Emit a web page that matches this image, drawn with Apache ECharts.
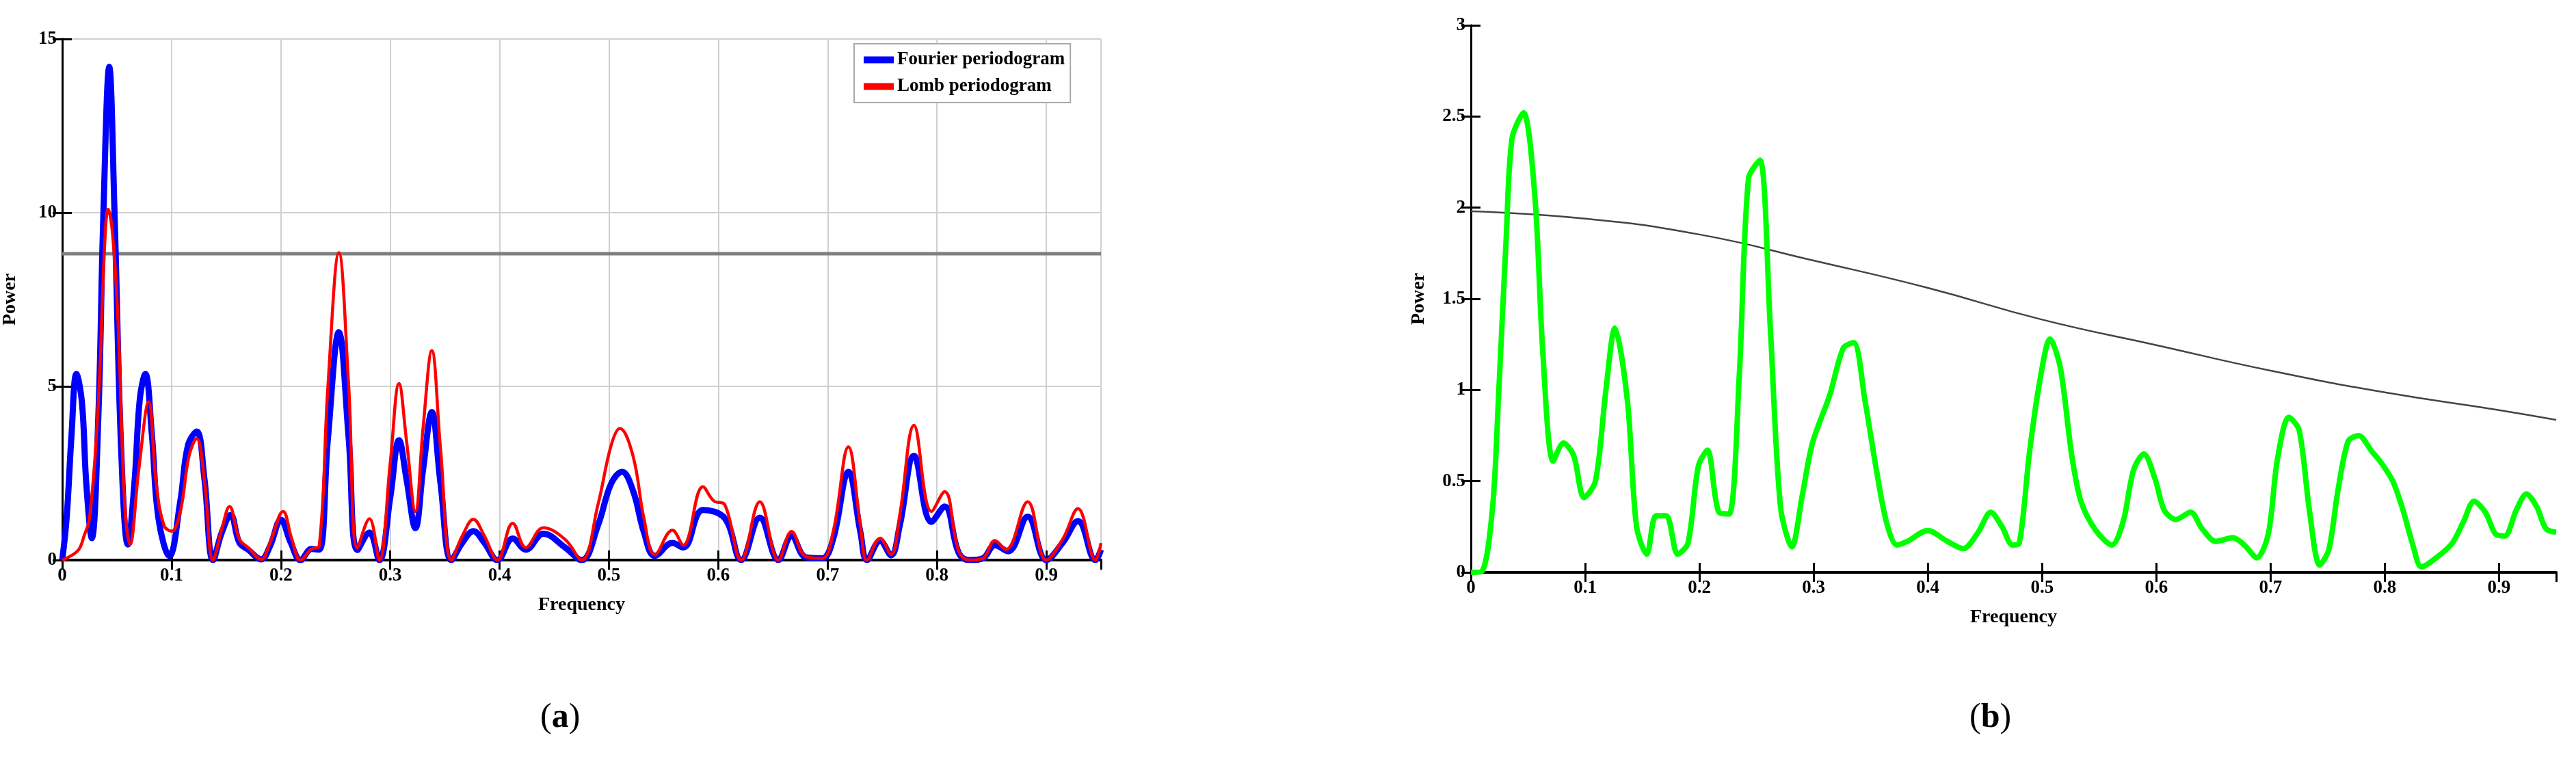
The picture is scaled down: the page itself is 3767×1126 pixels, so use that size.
<!DOCTYPE html>
<html>
<head>
<meta charset="utf-8">
<script src="https://cdn.jsdelivr.net/npm/echarts@6/dist/echarts.min.js"></script>
<style>
html, body { margin: 0; padding: 0; background: #fff; }
#chart { width: 3767px; height: 1126px; }
</style>
</head>
<body>
<div id="chart"></div>
<script>
// panel (a): Fourier periodogram [freq, power]
const fourier = [
  [0, 0], [0.004, 1.2], [0.0085, 3.6], [0.013, 5.36], [0.018, 4.55], [0.022, 2.2], [0.027, 0.63],
  [0.033, 4.1], [0.0375, 9.8], [0.043, 14.2], [0.048, 9.8], [0.054, 3.1], [0.06, 0.45],
  [0.066, 2.2], [0.071, 4.65], [0.076, 5.36], [0.082, 3.6], [0.088, 1.2], [0.098, 0.12],
  [0.108, 1.7], [0.115, 3.3], [0.123, 3.7], [0.13, 2.35], [0.138, 0], [0.146, 0.8], [0.154, 1.3],
  [0.162, 0.5], [0.17, 0.3], [0.182, 0.02], [0.19, 0.4], [0.2, 1.16], [0.209, 0.5], [0.218, 0],
  [0.228, 0.32], [0.235, 0.3], [0.243, 3.5], [0.253, 6.56], [0.262, 3.5], [0.27, 0.29],
  [0.281, 0.79], [0.29, 0], [0.3, 1.8], [0.308, 3.45], [0.315, 2.3], [0.323, 0.92], [0.33, 2.6],
  [0.338, 4.26], [0.346, 2.2], [0.356, 0], [0.366, 0.5], [0.376, 0.83], [0.386, 0.5], [0.398, 0],
  [0.412, 0.62], [0.424, 0.3], [0.44, 0.76], [0.46, 0.36], [0.475, 0], [0.49, 1.0], [0.502, 2.2],
  [0.512, 2.54], [0.522, 2.0], [0.532, 0.8], [0.542, 0.12], [0.558, 0.49], [0.568, 0.36],
  [0.586, 1.44], [0.606, 1.2], [0.621, 0], [0.638, 1.22], [0.655, 0], [0.667, 0.69], [0.68, 0.08],
  [0.695, 0.05], [0.705, 0.6], [0.719, 2.54], [0.73, 0.8], [0.736, 0], [0.748, 0.55], [0.758, 0.14],
  [0.766, 1.0], [0.779, 3.0], [0.795, 1.1], [0.807, 1.54], [0.82, 0.2], [0.83, 0], [0.842, 0.05],
  [0.853, 0.43], [0.865, 0.25], [0.883, 1.25], [0.9, 0], [0.915, 0.5], [0.929, 1.12], [0.945, 0],
  [0.95, 0.3]
];
// panel (a): Lomb periodogram
const lomb = [
  [0, 0], [0.004, 0.05], [0.015, 0.3], [0.02, 0.7], [0.025, 1.2], [0.033, 4.55], [0.039, 9.2],
  [0.042, 10.1], [0.046, 9.4], [0.051, 6.9], [0.057, 1.7], [0.062, 0.45], [0.07, 2.6],
  [0.079, 4.55], [0.086, 2.2], [0.093, 1.0], [0.1, 0.83], [0.108, 1.4], [0.116, 3.0], [0.123, 3.5],
  [0.13, 2.3], [0.138, 0], [0.146, 0.9], [0.153, 1.54], [0.162, 0.6], [0.17, 0.36], [0.182, 0.02],
  [0.19, 0.5], [0.202, 1.4], [0.21, 0.6], [0.218, 0], [0.228, 0.32], [0.235, 0.4], [0.243, 5.0],
  [0.253, 8.85], [0.262, 5.0], [0.27, 0.35], [0.281, 1.19], [0.29, 0], [0.3, 2.8], [0.308, 5.08],
  [0.315, 3.4], [0.323, 1.4], [0.33, 3.8], [0.338, 6.03], [0.346, 3.2], [0.356, 0], [0.366, 0.7],
  [0.376, 1.17], [0.386, 0.7], [0.398, 0], [0.412, 1.06], [0.424, 0.36], [0.44, 0.93], [0.46, 0.59],
  [0.475, 0], [0.49, 1.6], [0.502, 3.3], [0.51, 3.79], [0.522, 3.0], [0.532, 1.2], [0.542, 0.15],
  [0.558, 0.86], [0.568, 0.43], [0.586, 2.11], [0.596, 1.7], [0.606, 1.59], [0.621, 0],
  [0.638, 1.68], [0.655, 0], [0.667, 0.82], [0.68, 0.1], [0.695, 0.05], [0.705, 0.8], [0.719, 3.26],
  [0.73, 1.0], [0.736, 0], [0.748, 0.63], [0.758, 0.16], [0.766, 1.3], [0.779, 3.88], [0.795, 1.4],
  [0.807, 1.97], [0.82, 0.25], [0.83, 0], [0.842, 0.05], [0.853, 0.56], [0.863, 0.3], [0.883, 1.68],
  [0.9, 0], [0.915, 0.6], [0.929, 1.48], [0.945, 0], [0.95, 0.49]
];
const threshold = 8.82;

// panel (b): green periodogram and black significance curve
const green = [
  [0, 0], [0.0096, 0.006], [0.019, 0.36], [0.024, 0.94], [0.031, 1.85], [0.036, 2.38],
  [0.046, 2.52], [0.056, 2.06], [0.063, 1.2], [0.072, 0.61], [0.081, 0.71], [0.09, 0.64],
  [0.099, 0.41], [0.109, 0.5], [0.118, 0.99], [0.126, 1.34], [0.137, 0.94], [0.145, 0.25],
  [0.154, 0.1], [0.162, 0.31], [0.171, 0.31], [0.181, 0.1], [0.19, 0.16], [0.199, 0.58],
  [0.207, 0.67], [0.217, 0.33], [0.226, 0.32], [0.235, 1.09], [0.243, 2.16], [0.253, 2.26],
  [0.262, 1.35], [0.271, 0.36], [0.281, 0.14], [0.29, 0.42], [0.299, 0.71], [0.314, 0.97],
  [0.326, 1.23], [0.335, 1.26], [0.345, 0.94], [0.355, 0.56], [0.364, 0.27], [0.373, 0.15],
  [0.382, 0.17], [0.4, 0.23], [0.417, 0.17], [0.431, 0.13], [0.444, 0.22], [0.455, 0.33],
  [0.465, 0.25], [0.474, 0.15], [0.48, 0.16], [0.489, 0.66], [0.498, 1.05], [0.507, 1.28],
  [0.516, 1.12], [0.526, 0.64], [0.534, 0.39], [0.547, 0.23], [0.561, 0.15], [0.571, 0.28],
  [0.58, 0.56], [0.589, 0.65], [0.599, 0.51], [0.607, 0.34], [0.617, 0.29], [0.63, 0.33],
  [0.64, 0.24], [0.652, 0.17], [0.667, 0.19], [0.677, 0.15], [0.688, 0.08], [0.698, 0.21],
  [0.706, 0.62], [0.716, 0.85], [0.725, 0.78], [0.734, 0.34], [0.743, 0.04], [0.751, 0.125],
  [0.759, 0.45], [0.768, 0.72], [0.777, 0.75], [0.789, 0.66], [0.797, 0.6], [0.807, 0.5],
  [0.816, 0.34], [0.825, 0.14], [0.832, 0.03], [0.845, 0.08], [0.859, 0.16], [0.869, 0.28],
  [0.878, 0.39], [0.888, 0.33], [0.897, 0.21], [0.905, 0.2], [0.915, 0.34], [0.924, 0.43],
  [0.933, 0.36], [0.941, 0.24], [0.95, 0.22]
];
const signif = [
  [0, 1.98], [0.1, 1.94], [0.2, 1.853], [0.3, 1.71], [0.4, 1.56], [0.5, 1.386], [0.6, 1.246],
  [0.7, 1.106], [0.8, 0.987], [0.9, 0.89], [0.95, 0.836]
];

const font = 'Liberation Serif';
const labelStyle = { fontFamily: font, fontWeight: 'bold', fontSize: 27, color: '#000' };
const freqLabel = v => v === 0 ? '0' : v.toFixed(1);

function xAxes(grid, gridLines) {
  return [{
    type: 'value', gridIndex: grid, min: 0, max: 0.95, interval: 0.1,
    name: 'Frequency', nameLocation: 'middle', nameGap: 52,
    nameTextStyle: { fontFamily: font, fontWeight: 'bold', fontSize: 28, color: '#000' },
    axisLine: { lineStyle: { color: '#000', width: 4 } },
    axisTick: { inside: true, length: 14, lineStyle: { color: '#000', width: 3 } },
    axisLabel: Object.assign({ formatter: freqLabel, showMaxLabel: false, margin: 10 }, labelStyle),
    splitLine: { show: gridLines, lineStyle: { color: '#d0d0d0', width: 2 } }
  }, {
    type: 'value', gridIndex: grid, position: 'top', min: 0, max: 0.95, interval: 0.1,
    axisLine: { lineStyle: { color: '#000', width: 3 } },
    axisTick: { inside: true, length: 14, lineStyle: { color: '#000', width: 3 } },
    axisLabel: { show: false }, splitLine: { show: false }
  }];
}
function yAxes(grid, max, interval, gridLines, fmt) {
  return [{
    type: 'value', gridIndex: grid, min: 0, max: max, interval: interval,
    name: 'Power', nameLocation: 'middle', nameGap: 62,
    nameTextStyle: { fontFamily: font, fontWeight: 'bold', fontSize: 28, color: '#000' },
    axisLine: { show: true, lineStyle: { color: '#000', width: 3 } },
    axisTick: { show: true, inside: true, length: 14, lineStyle: { color: '#000', width: 3 } },
    axisLabel: Object.assign({ formatter: fmt, margin: 8 }, labelStyle),
    splitLine: { show: gridLines, lineStyle: { color: '#d0d0d0', width: 2 } }
  }, {
    type: 'value', gridIndex: grid, position: 'right', min: 0, max: max, interval: interval,
    axisLine: { show: true, lineStyle: { color: '#000', width: 3 } },
    axisTick: { show: true, inside: true, length: 14, lineStyle: { color: '#000', width: 3 } },
    axisLabel: { show: false }, splitLine: { show: false }
  }];
}

const chart = echarts.init(document.getElementById('chart'));
chart.setOption({
  backgroundColor: '#fff',
  animation: false,
  grid: [
    { left: 91, top: 57, width: 1519, height: 762 },
    { left: 2151, top: 37, width: 1587, height: 800 }
  ],
  xAxis: [...xAxes(0, true), ...xAxes(1, false)],
  yAxis: [...yAxes(0, 15, 5, true, v => String(v)), ...yAxes(1, 3, 0.5, false, v => String(v))],
  legend: {
    left: 1249, top: 64, orient: 'vertical', data: ['Fourier periodogram', 'Lomb periodogram'],
    backgroundColor: '#fff', borderColor: '#aaa', borderWidth: 2, borderRadius: 0,
    padding: [10, 8, 10, 14], itemGap: 12, itemWidth: 44, itemHeight: 10,
    icon: 'rect',
    textStyle: { fontFamily: font, fontWeight: 'bold', fontSize: 27, color: '#000' }
  },
  series: [
    { name: 'Threshold', type: 'line', xAxisIndex: 0, yAxisIndex: 0, symbol: 'none',
      data: [[0, threshold], [0.95, threshold]], lineStyle: { color: '#7f7f7f', width: 5 } },
    { name: 'Fourier periodogram', type: 'line', xAxisIndex: 0, yAxisIndex: 0, symbol: 'none',
      smooth: 0.4, data: fourier, color: '#0000ff', lineStyle: { color: '#0000ff', width: 9 } },
    { name: 'Lomb periodogram', type: 'line', xAxisIndex: 0, yAxisIndex: 0, symbol: 'none',
      smooth: 0.4, data: lomb, color: '#ff0000', lineStyle: { color: '#ff0000', width: 4.5 } },
    { name: 'Significance', type: 'line', xAxisIndex: 2, yAxisIndex: 2, symbol: 'none',
      smooth: true, data: signif, lineStyle: { color: '#444', width: 2.5 } },
    { name: 'Power spectrum', type: 'line', xAxisIndex: 2, yAxisIndex: 2, symbol: 'none',
      smooth: 0.3, data: green, lineStyle: { color: '#00ff00', width: 8 } }
  ],
  graphic: [
    { type: 'text', left: 790, top: 1025,
      style: { text: '({a|a})', fontFamily: font, fontSize: 50, fill: '#000',
        rich: { a: { fontFamily: font, fontSize: 50, fontWeight: 'bold', fill: '#000' } } } },
    { type: 'text', left: 2880, top: 1025,
      style: { text: '({a|b})', fontFamily: font, fontSize: 50, fill: '#000',
        rich: { a: { fontFamily: font, fontSize: 50, fontWeight: 'bold', fill: '#000' } } } }
  ]
});
</script>
</body>
</html>
